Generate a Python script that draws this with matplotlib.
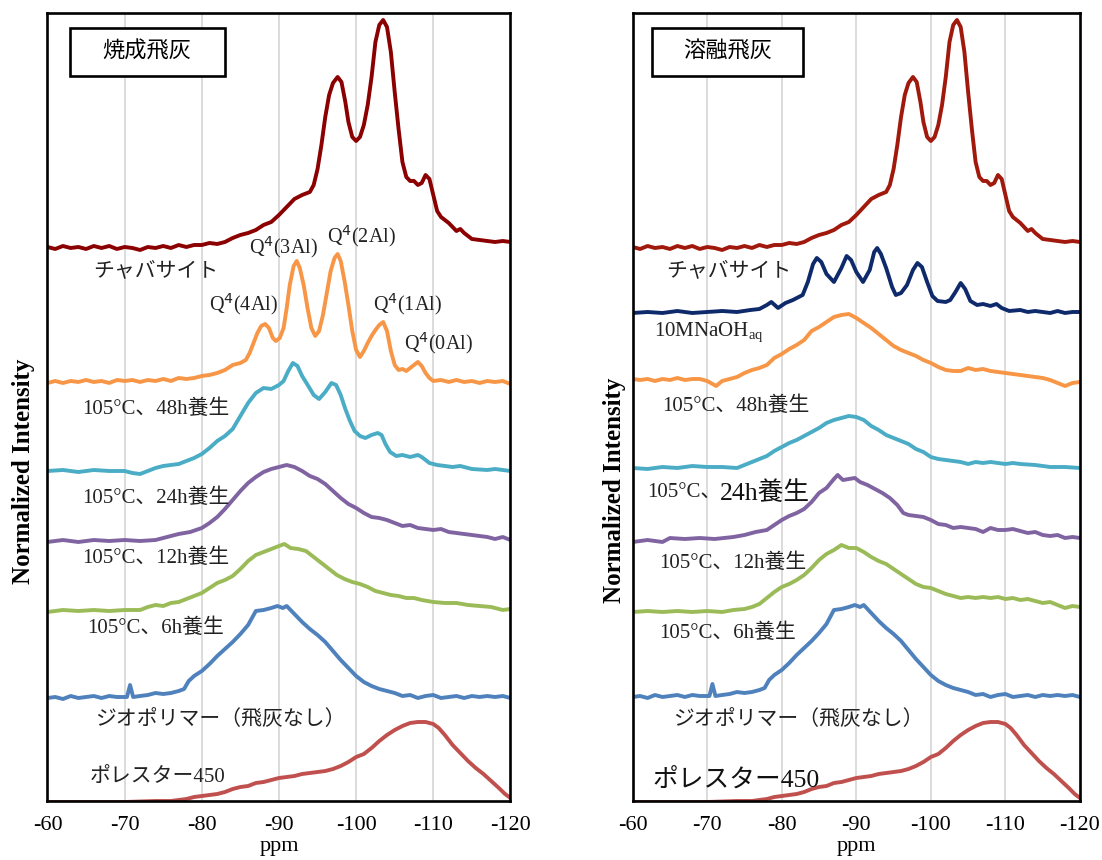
import numpy as np
import matplotlib
matplotlib.use("Agg")
import matplotlib.pyplot as plt
from matplotlib.patches import Rectangle

plt.rcParams['font.family'] = ['Liberation Serif', 'Noto Sans CJK JP']

# --- spectra: ppm positions and normalized intensity above each trace's baseline ---
cha_ppm = [-60, -61, -62, -63, -64, -65, -66, -67, -68, -69, -70, -71, -72, -73, -74, -75, -76, -77,
           -78, -79, -80, -81, -82, -83, -84, -85, -86, -87, -88, -89, -90, -91, -92, -93, -94, -94.5,
           -95, -95.5, -96, -96.5, -97, -97.6, -98.1, -98.6, -99, -99.5, -100, -100.5, -101, -101.5,
           -102, -102.5, -103, -103.5, -104, -104.5, -105, -105.5, -106, -106.5, -107, -107.5, -108,
           -108.5, -109, -109.5, -110, -110.5, -111, -111.5, -112, -112.5, -113, -113.5, -114, -115,
           -116, -117, -118, -119, -120]
cha_int = [0.00, -0.02, 0.01, -0.01, 0.00, -0.02, 0.01, -0.01, 0.01, -0.02, 0.00, -0.01, -0.03, 0.00,
           -0.01, 0.01, -0.01, 0.02, 0.00, 0.02, 0.02, 0.04, 0.03, 0.05, 0.09, 0.12, 0.14, 0.17, 0.22,
           0.25, 0.32, 0.40, 0.48, 0.52, 0.55, 0.62, 0.78, 1.02, 1.30, 1.52, 1.64, 1.70, 1.65, 1.45,
           1.25, 1.10, 1.06, 1.10, 1.22, 1.42, 1.70, 2.05, 2.22, 2.27, 2.20, 1.95, 1.55, 1.18, 0.85,
           0.70, 0.66, 0.66, 0.62, 0.64, 0.72, 0.68, 0.52, 0.36, 0.30, 0.27, 0.24, 0.20, 0.16, 0.18,
           0.14, 0.08, 0.07, 0.06, 0.05, 0.06, 0.05]

a48_ppm = [-60, -61, -62, -63, -64, -65, -66, -67, -68, -69, -70, -71, -72, -73, -74, -75, -76, -77,
           -78, -79, -80, -81, -82, -83, -84, -85, -85.7, -86.2, -86.7, -87.2, -87.7, -88.2, -88.7,
           -89.2, -89.6, -90.1, -90.6, -91.0, -91.4, -91.9, -92.3, -92.7, -93.2, -93.7, -94.2, -94.7,
           -95.2, -95.7, -96.2, -96.7, -97.2, -97.6, -98.0, -98.5, -99, -99.5, -100, -100.5, -101,
           -101.5, -102, -102.5, -103, -103.5, -104, -104.5, -105, -105.5, -106, -106.5, -107, -107.5,
           -108, -108.5, -109, -109.5, -110, -111, -112, -113, -114, -115, -116, -117, -118, -119, -120]
a48_int = [0.00, 0.02, 0.00, 0.02, 0.01, 0.03, 0.01, 0.02, 0.00, 0.03, 0.02, 0.03, 0.01, 0.03, 0.02,
           0.04, 0.02, 0.05, 0.04, 0.05, 0.07, 0.08, 0.10, 0.13, 0.18, 0.20, 0.23, 0.30, 0.40, 0.50,
           0.57, 0.59, 0.55, 0.45, 0.42, 0.45, 0.55, 0.75, 0.98, 1.17, 1.22, 1.15, 0.98, 0.75, 0.55,
           0.47, 0.52, 0.68, 0.90, 1.12, 1.25, 1.29, 1.22, 1.02, 0.78, 0.52, 0.33, 0.26, 0.32, 0.40,
           0.47, 0.53, 0.58, 0.61, 0.52, 0.32, 0.18, 0.13, 0.14, 0.12, 0.15, 0.18, 0.21, 0.17, 0.10,
           0.05, 0.02, 0.03, 0.01, 0.03, 0.01, 0.02, 0.00, 0.02, 0.01, 0.02, -0.01]

a24_ppm = [-60, -62, -64, -66, -68, -70, -71, -72, -73, -74, -75, -76, -77, -78, -79, -80, -81, -82,
           -83, -84, -85, -86, -87, -88, -89, -90, -90.6, -91.2, -91.8, -92.4, -93, -93.8, -94.5, -95.2,
           -96, -96.8, -97.4, -98, -98.6, -99.2, -99.8, -100.5, -101.2, -102, -102.8, -103.3, -103.8,
           -104.4, -105.2, -106, -107, -108, -108.5, -109.5, -110.5, -111.5, -112.5, -113.5, -115,
           -117, -118, -120]
a24_int = [0, 0.01, -0.01, 0.01, 0.00, 0.00, -0.02, -0.03, 0.00, 0.03, 0.05, 0.06, 0.07, 0.10, 0.13,
           0.17, 0.23, 0.30, 0.35, 0.42, 0.55, 0.68, 0.78, 0.83, 0.82, 0.86, 0.90, 1.00, 1.08, 1.05,
           0.95, 0.85, 0.76, 0.72, 0.79, 0.88, 0.86, 0.76, 0.62, 0.50, 0.40, 0.35, 0.33, 0.36, 0.38,
           0.36, 0.27, 0.19, 0.15, 0.16, 0.14, 0.16, 0.14, 0.08, 0.06, 0.05, 0.04, 0.05, 0.02, 0.01,
           0.02, 0]

a12_ppm = [-60, -62, -64, -66, -68, -70, -72, -74, -75.5, -77, -78.5, -80, -81, -82, -83, -84, -85,
           -86, -87, -88, -89, -90, -91, -92, -93, -94, -95, -96, -97, -98, -99, -100, -101, -102,
           -103, -104, -105, -106, -107, -108, -109, -110, -111, -112, -113, -114, -115, -116, -117,
           -118, -119, -120]
a12_int = [-0.01, 0.01, -0.01, 0.01, 0.00, 0.01, 0.00, 0.01, 0.04, 0.07, 0.09, 0.13, 0.18, 0.24, 0.32,
           0.41, 0.50, 0.58, 0.64, 0.69, 0.72, 0.74, 0.76, 0.74, 0.70, 0.65, 0.62, 0.57, 0.50, 0.43,
           0.37, 0.33, 0.28, 0.24, 0.23, 0.21, 0.18, 0.15, 0.16, 0.13, 0.12, 0.11, 0.12, 0.09, 0.08,
           0.07, 0.06, 0.05, 0.04, 0.02, 0.04, 0.01]

a6_ppm = [-60, -62, -64, -66, -68, -70, -72, -73, -74, -75, -76, -77, -78, -79, -80, -81, -82, -83,
          -84, -85, -86, -87, -88, -89, -90, -90.7, -91.5, -92.5, -93.5, -94.5, -95.5, -96.5, -97.5,
          -98.5, -99.5, -100.5, -101.5, -102.5, -103.5, -104.5, -105.5, -106.5, -107.5, -108.5,
          -110, -111.5, -113, -114.5, -116, -117.5, -119, -120]
a6_int = [-0.01, 0.01, 0.00, 0.01, 0.00, 0.01, 0.01, 0.04, 0.06, 0.05, 0.08, 0.09, 0.12, 0.15, 0.18,
          0.23, 0.28, 0.31, 0.35, 0.42, 0.50, 0.56, 0.59, 0.62, 0.65, 0.67, 0.63, 0.62, 0.60, 0.54,
          0.48, 0.42, 0.36, 0.32, 0.29, 0.27, 0.24, 0.20, 0.18, 0.16, 0.15, 0.13, 0.13, 0.11, 0.09,
          0.08, 0.08, 0.06, 0.05, 0.04, 0.01, 0.02]

geo_ppm = [-60, -61, -62, -63, -64, -65, -66, -67, -68, -69, -70.3, -70.7, -71.1, -72, -73, -74, -75,
           -76, -77, -77.7, -78.3, -79, -80, -81, -82, -83, -84, -85, -86, -87, -88, -89, -89.8, -90.5,
           -91, -92, -93, -94, -95, -96, -97, -98, -99, -100, -101, -102, -103, -104, -105, -106, -107,
           -108, -109, -110, -111, -112, -113, -114, -115, -116, -117, -118, -119, -120]
geo_int = [0, 0.01, -0.01, 0.02, 0.00, 0.01, 0.02, 0.00, 0.02, 0.01, 0.01, 0.13, 0.01, 0.02, 0.03,
           0.05, 0.04, 0.05, 0.07, 0.09, 0.17, 0.22, 0.27, 0.34, 0.42, 0.49, 0.56, 0.64, 0.73, 0.87,
           0.88, 0.90, 0.92, 0.90, 0.92, 0.84, 0.76, 0.69, 0.63, 0.56, 0.47, 0.38, 0.30, 0.22, 0.16,
           0.12, 0.09, 0.07, 0.05, 0.02, 0.03, 0.00, 0.02, 0.03, 0.00, 0.01, 0.02, 0.00, 0.02, 0.01,
           0.02, 0.01, 0.02, 0.00]

por_ppm = [-60, -65, -70, -74, -76, -78, -79, -80, -81, -82, -83, -84, -85, -86, -87, -88, -89, -90,
           -91, -92, -93, -94, -95, -96, -97, -98, -99, -100, -101, -102, -103, -104, -105, -106, -107,
           -108, -109, -110, -110.7, -111.5, -112.5, -113.5, -114.5, -115.5, -116.5, -117.5, -118.5,
           -119.3, -120]
por_int = [-0.01, -0.01, -0.01, 0.00, 0.00, 0.02, 0.04, 0.05, 0.06, 0.07, 0.09, 0.12, 0.14, 0.15, 0.18,
           0.19, 0.21, 0.23, 0.24, 0.25, 0.27, 0.28, 0.29, 0.30, 0.32, 0.35, 0.39, 0.44, 0.47, 0.53,
           0.60, 0.66, 0.71, 0.75, 0.78, 0.79, 0.79, 0.77, 0.73, 0.66, 0.56, 0.48, 0.40, 0.33, 0.27,
           0.20, 0.13, 0.07, 0.03]

naoh_ppm = [-60, -62, -64, -66, -68, -70, -72, -74, -75.8, -77, -78, -78.6, -79.5, -80.5, -81.5, -82.8,
            -83.5, -84.2, -84.7, -85.3, -86, -87, -88, -88.7, -89.3, -90, -90.9, -91.8, -92.4, -92.8,
            -93.3, -94, -94.8, -95.3, -96, -96.8, -97.6, -98.2, -98.8, -99.5, -100.2, -100.9, -102,
            -102.6, -103.3, -104, -104.6, -105.3, -106.2, -107, -108, -108.8, -109.5, -110.5, -112,
            -113, -114, -115, -116, -117, -118, -119, -120]
naoh_int = [-0.01, 0.00, -0.01, 0.01, -0.01, 0.00, 0.01, 0.00, 0.02, 0.03, 0.07, 0.10, 0.04, 0.09, 0.12,
            0.17, 0.30, 0.48, 0.54, 0.50, 0.38, 0.30, 0.44, 0.56, 0.52, 0.40, 0.30, 0.42, 0.60, 0.64,
            0.58, 0.44, 0.25, 0.17, 0.19, 0.27, 0.42, 0.49, 0.45, 0.30, 0.16, 0.11, 0.10, 0.12, 0.20,
            0.29, 0.23, 0.11, 0.07, 0.08, 0.06, 0.08, 0.04, 0.01, 0.02, 0.00, 0.01, 0.00, -0.01, 0.01,
            -0.01, 0.00, 0.00]

m48_ppm = [-60, -61, -62, -63, -64, -65, -66, -67, -68, -69, -70, -71.2, -72, -73, -74, -75, -76, -77,
           -78, -79, -80, -81, -82, -83, -84, -85, -86, -87, -88, -89, -90, -91, -92, -93, -94, -95,
           -96, -97, -98, -99, -100, -101, -102, -103, -104, -105, -106, -107, -108, -109, -110, -111,
           -112, -113, -114, -115, -116, -117, -118, -119, -120]
m48_int = [0.01, 0.00, 0.01, -0.01, 0.01, 0.00, 0.02, 0.00, 0.01, 0.01, -0.01, -0.06, -0.01, 0.01, 0.03,
           0.07, 0.10, 0.12, 0.15, 0.22, 0.26, 0.31, 0.35, 0.40, 0.49, 0.53, 0.58, 0.63, 0.65, 0.66,
           0.62, 0.57, 0.52, 0.46, 0.40, 0.34, 0.30, 0.27, 0.24, 0.20, 0.17, 0.13, 0.10, 0.09, 0.09,
           0.12, 0.10, 0.11, 0.09, 0.08, 0.07, 0.06, 0.05, 0.04, 0.03, 0.02, 0.00, -0.03, -0.06, -0.03,
           -0.02]

m24_ppm = [-60, -62, -64, -66, -68, -70, -72, -74, -75, -76, -77, -78, -79, -80, -81, -82, -83, -84,
           -85, -86, -87, -88, -89, -90, -91, -92, -93, -94, -95, -96, -97, -98, -99, -100, -101, -102,
           -103, -104, -105, -106, -107, -108, -109, -110, -111, -112, -114, -116, -118, -120]
m24_int = [0, -0.01, 0.01, 0.00, 0.02, 0.01, 0.01, 0.00, 0.03, 0.06, 0.09, 0.12, 0.17, 0.21, 0.25, 0.28,
           0.32, 0.36, 0.40, 0.45, 0.48, 0.50, 0.52, 0.51, 0.48, 0.42, 0.38, 0.33, 0.30, 0.27, 0.24,
           0.19, 0.16, 0.11, 0.09, 0.08, 0.07, 0.06, 0.04, 0.06, 0.05, 0.06, 0.05, 0.04, 0.05, 0.04,
           0.03, 0.01, 0.01, 0.00]

m12_ppm = [-60, -62, -64, -65, -67, -69, -71, -73.5, -75, -76.5, -78, -79, -80, -81, -82, -83, -84, -85,
           -86, -87, -87.5, -88.2, -89, -89.8, -90.5, -91.5, -92.5, -93.5, -94.5, -95.5, -96.3, -97,
           -98, -99, -100, -101, -102, -103, -104, -105, -106, -107, -108, -109, -110, -111, -112,
           -113, -114, -115, -116, -117, -118, -119, -120]
m12_int = [-0.02, 0.00, -0.02, 0.02, 0.01, 0.02, 0.01, 0.03, 0.05, 0.08, 0.10, 0.15, 0.20, 0.24, 0.27,
           0.31, 0.38, 0.47, 0.52, 0.61, 0.65, 0.60, 0.61, 0.62, 0.58, 0.55, 0.51, 0.47, 0.42, 0.35,
           0.27, 0.25, 0.24, 0.23, 0.20, 0.16, 0.15, 0.12, 0.13, 0.12, 0.11, 0.08, 0.12, 0.10, 0.10,
           0.11, 0.09, 0.07, 0.08, 0.05, 0.04, 0.05, 0.02, 0.03, 0.02]

m6_ppm = [-60, -62, -64, -66, -68, -70, -72, -73.5, -75, -76, -77, -78, -79, -80, -81, -82, -83, -84,
          -85, -86, -87, -88, -89, -90, -91, -92, -93, -94, -95, -96, -97, -98, -99, -100, -101, -102,
          -103, -104, -105, -106, -107, -108, -109, -110, -111, -112, -113, -114, -115, -116, -117,
          -118, -119, -120]
m6_int = [0.00, 0.01, 0.00, 0.01, 0.00, 0.01, 0.00, 0.02, 0.03, 0.05, 0.08, 0.14, 0.20, 0.25, 0.28, 0.32,
          0.37, 0.44, 0.52, 0.58, 0.62, 0.67, 0.64, 0.64, 0.60, 0.55, 0.51, 0.48, 0.43, 0.38, 0.33,
          0.28, 0.25, 0.24, 0.21, 0.18, 0.16, 0.14, 0.15, 0.14, 0.15, 0.14, 0.15, 0.13, 0.14, 0.12,
          0.13, 0.11, 0.09, 0.10, 0.07, 0.04, 0.06, 0.05]

# baselines (normalized units) for the stacked traces
left_offsets = [5.54, 4.18, 3.30, 2.60, 1.90, 1.03, 0.0]
right_offsets = [5.54, 4.89, 4.21, 3.33, 2.61, 1.89, 1.04, 0.0]

left_colors = ['#8b0000', '#f79646', '#4bacc6', '#8064a2', '#9bbb59', '#4f81bd', '#c0504d']
right_colors = ['#a0190c', '#0e2a6b', '#f79646', '#4bacc6', '#8064a2', '#9bbb59', '#4f81bd', '#c0504d']

left_series = [(cha_ppm, cha_int), (a48_ppm, a48_int), (a24_ppm, a24_int), (a12_ppm, a12_int),
               (a6_ppm, a6_int), (geo_ppm, geo_int), (por_ppm, por_int)]
right_series = [(cha_ppm, cha_int), (naoh_ppm, naoh_int), (m48_ppm, m48_int), (m24_ppm, m24_int),
                (m12_ppm, m12_int), (m6_ppm, m6_int), (geo_ppm, geo_int), (por_ppm, por_int)]

xticks = [-60, -70, -80, -90, -100, -110, -120]

fig = plt.figure(figsize=(11.02, 8.6), dpi=100)
ax1 = fig.add_axes([0.0431, 0.0686, 0.4201, 0.9163])
ax2 = fig.add_axes([0.5741, 0.0686, 0.4059, 0.9163])


def setup(ax, series, offsets, colors):
    for x in xticks[1:-1]:
        ax.axvline(x, color='#d9d9d9', lw=1.3, zorder=0)
    for (p, v), off, c in zip(series, offsets, colors):
        ax.plot(p, np.array(v) + off, color=c, lw=2.8, zorder=3,
                solid_joinstyle='round', solid_capstyle='round')
    ax.set_xlim(-60, -120)
    ax.set_ylim(0, 7.88)
    ax.set_xticks(xticks)
    ax.set_xticklabels([str(t) for t in xticks])
    ax.tick_params(axis='x', length=0, pad=11, labelsize=16)
    ax.set_yticks([])
    for s in ax.spines.values():
        s.set_linewidth(1.9)
        s.set_zorder(4)
    ax.set_xlabel('ppm', fontsize=16, labelpad=1)


setup(ax1, left_series, left_offsets, left_colors)
setup(ax2, right_series, right_offsets, right_colors)

fig.text(0.021, 0.452, 'Normalized Intensity', rotation=90, fontsize=18, fontweight='bold',
         ha='center', va='center')
fig.text(0.558, 0.43, 'Normalized Intensity', rotation=90, fontsize=18, fontweight='bold',
         ha='center', va='center')

# title boxes
ax1.add_patch(Rectangle((0.0486, 0.920), 0.334, 0.061, transform=ax1.transAxes,
                        fc='white', ec='black', lw=1.9, zorder=5))
ax1.text(0.215, 0.950, '焼成飛灰', transform=ax1.transAxes, fontsize=16,
         ha='center', va='center', zorder=6)
ax2.add_patch(Rectangle((0.043, 0.920), 0.338, 0.061, transform=ax2.transAxes,
                        fc='white', ec='black', lw=1.9, zorder=5))
ax2.text(0.212, 0.950, '溶融飛灰', transform=ax2.transAxes, fontsize=16,
         ha='center', va='center', zorder=6)

lab = dict(fontsize=15, color='#222222', ha='left', va='center', zorder=5)
big = dict(fontsize=18.5, color='#111111', ha='left', va='center', zorder=5)
ax1.text(-65.9, 5.29, 'チャバサイト', **lab)
ax1.text(-64.5, 3.92, '105°C、48h養生', **lab)
ax1.text(-64.5, 3.03, '105°C、24h養生', **lab)
ax1.text(-64.5, 2.43, '105°C、12h養生', **lab)
ax1.text(-65.1, 1.73, '105°C、6h養生', **lab)
ax1.text(-66.2, 0.81, 'ジオポリマー（飛灰なし）', **lab)
ax1.text(-65.5, 0.24, 'ポレスター450', **lab)

q = dict(fontsize=14.5, color='#222222', ha='center', va='center', zorder=5)
ax1.text(-90.6, 5.54, 'Q$^{4}$(3Al)', **q)
ax1.text(-100.7, 5.65, 'Q$^{4}$(2Al)', **q)
ax1.text(-85.4, 4.97, 'Q$^{4}$(4Al)', **q)
ax1.text(-106.6, 4.97, 'Q$^{4}$(1Al)', **q)
ax1.text(-110.7, 4.58, 'Q$^{4}$(0Al)', **q)

ax2.text(-64.5, 5.29, 'チャバサイト', **lab)
ax2.text(-62.9, 4.68, '10MNaOH$_{\\mathregular{aq}}$', **lab)
ax2.text(-63.9, 3.95, '105°C、48h養生', **lab)
ax2.text(-61.9, 3.08, '105°C、', **lab)
ax2.text(-71.7, 3.08, '24h養生', **big)
ax2.text(-63.5, 2.38, '105°C、12h養生', **lab)
ax2.text(-63.5, 1.68, '105°C、6h養生', **lab)
ax2.text(-65.4, 0.81, 'ジオポリマー（飛灰なし）', **lab)
ax2.text(-62.6, 0.21, 'ポレスター450', **big)

fig.savefig('out.png', dpi=100)
